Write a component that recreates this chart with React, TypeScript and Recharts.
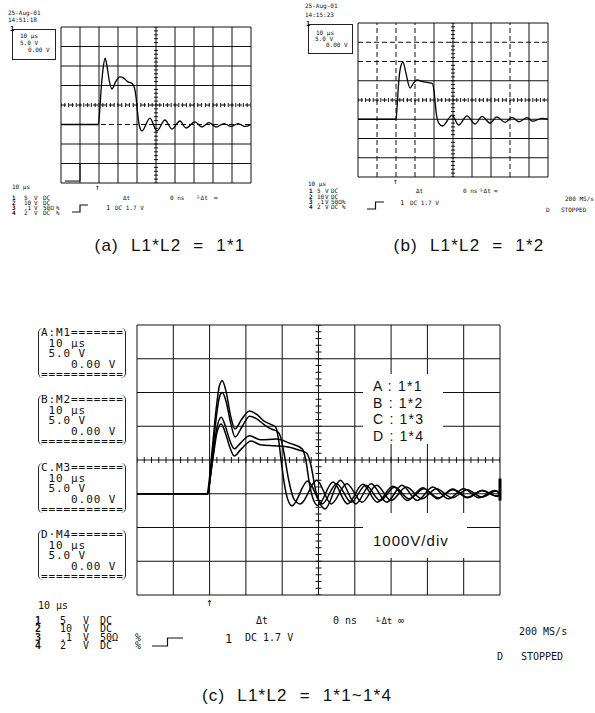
import React from "react";
import { ComposedChart, Line, Scatter, XAxis, YAxis, ReferenceLine } from "recharts";

// screen divisions of the scope graticule
const divX = [0, 1, 2, 3, 4, 5, 6, 7, 8, 9, 10];
const divY = [-4, -3, -2, -1, 0, 1, 2, 3, 4];

// (a) L1*L2 = 1*1  (time in div, voltage in div)
const aTime = [0, 1.97, 2.03, 2.12, 2.22, 2.32, 2.42, 2.55, 2.68, 2.88, 3.1, 3.3, 3.5, 3.74, 3.86, 3.95, 4.02, 4.12, 4.26, 4.68, 5.05, 5.47, 5.84, 6.26, 6.58, 7.05, 7.42, 7.79, 8.16, 8.58, 8.95, 9.32, 9.68, 10];
const aVolt = [-1, -1, -0.4, 0.9, 1.9, 2.4, 2.0, 1.2, 0.82, 1.2, 1.44, 1.38, 1.2, 1.1, 0.9, 0.4, -0.3, -1.05, -1.33, -0.67, -1.33, -0.77, -1.23, -0.82, -1.18, -0.87, -1.13, -0.9, -1.13, -0.95, -1.1, -0.95, -1.1, -1];
const aTrigTime = [0.2, 1.0, 1.0];
const aTrigVolt = [-3.9, -3.9, -3.0];

// (b) L1*L2 = 1*2
const bTime = [0, 2.0, 2.06, 2.14, 2.24, 2.37, 2.5, 2.74, 2.92, 3.1, 3.4, 3.7, 3.92, 4.02, 4.12, 4.25, 4.45, 4.95, 5.3, 5.74, 6.16, 6.53, 6.95, 7.3, 7.74, 8.1, 8.47, 8.9, 9.2, 9.68, 10];
const bVolt = [-1, -1, -0.3, 0.9, 1.7, 1.97, 1.5, 0.62, 0.88, 1.04, 0.96, 0.9, 0.85, 0.3, -0.7, -1.2, -1.35, -0.8, -1.3, -0.82, -1.25, -0.85, -1.2, -0.88, -1.16, -0.9, -1.13, -0.92, -1.1, -0.95, -1];

// (c) L1*L2 = 1*1 ~ 1*4
const cTimeA = [0, 1.93, 2.0, 2.08, 2.18, 2.27, 2.35, 2.45, 2.58, 2.7, 2.88, 3.1, 3.3, 3.5, 3.7, 3.82, 3.9, 3.98, 4.1, 4.27, 4.7, 5.1, 5.5, 5.9, 6.3, 6.7, 7.1, 7.5, 7.9, 8.3, 8.7, 9.1, 9.5, 9.9, 10];
const cVoltA = [-1, -1, -0.5, 0.4, 1.5, 2.2, 2.35, 2.05, 1.3, 0.92, 1.2, 1.45, 1.35, 1.15, 1.05, 0.98, 0.6, -0.1, -0.95, -1.36, -0.62, -1.3, -0.7, -1.25, -0.75, -1.2, -0.8, -1.15, -0.85, -1.12, -0.88, -1.1, -0.9, -1.06, -1];
const cTimeB = [0, 1.95, 2.02, 2.1, 2.2, 2.28, 2.35, 2.45, 2.58, 2.7, 2.9, 3.1, 3.3, 3.5, 3.7, 3.85, 3.95, 4.05, 4.18, 4.32, 4.5, 4.95, 5.35, 5.78, 6.2, 6.6, 7.0, 7.42, 7.85, 8.25, 8.68, 9.1, 9.5, 9.9, 10];
const cVoltB = [-1, -1, -0.5, 0.4, 1.4, 1.9, 2.0, 1.75, 1.1, 0.68, 1.0, 1.3, 1.22, 1.05, 0.92, 0.86, 0.7, 0.2, -0.6, -1.15, -1.3, -0.6, -1.3, -0.7, -1.25, -0.75, -1.2, -0.8, -1.15, -0.85, -1.12, -0.88, -1.1, -0.92, -1];
const cTimeC = [0, 1.95, 2.02, 2.1, 2.2, 2.32, 2.45, 2.55, 2.68, 2.85, 3.1, 3.4, 3.85, 4.2, 4.55, 4.65, 4.75, 4.85, 4.98, 5.4, 5.8, 6.22, 6.62, 7.05, 7.45, 7.87, 8.28, 8.7, 9.1, 9.52, 9.92, 10];
const cVoltC = [-1, -1, -0.5, 0.2, 0.95, 1.27, 0.95, 0.6, 0.33, 0.5, 0.72, 0.6, 0.62, 0.5, 0.33, 0.0, -0.7, -1.15, -1.35, -0.65, -1.3, -0.72, -1.25, -0.78, -1.2, -0.82, -1.15, -0.86, -1.12, -0.9, -1.08, -1.02];
const cTimeD = [0, 1.95, 2.02, 2.1, 2.2, 2.32, 2.45, 2.55, 2.68, 2.85, 3.15, 3.4, 3.8, 4.2, 4.5, 4.68, 4.8, 4.92, 5.05, 5.18, 5.6, 6.02, 6.45, 6.88, 7.3, 7.72, 8.15, 8.58, 9.0, 9.42, 9.85, 10];
const cVoltD = [-1, -1, -0.5, 0.1, 0.8, 1.07, 0.75, 0.4, 0.12, 0.3, 0.56, 0.45, 0.42, 0.38, 0.28, 0.2, -0.2, -0.9, -1.3, -1.45, -0.6, -1.3, -0.7, -1.25, -0.75, -1.2, -0.8, -1.15, -0.85, -1.12, -0.9, -1.0];

const legendLabels = ["A : 1*1", "B : 1*2", "C : 1*3", "D : 1*4"];
const memLabels = ["A:M1", "B:M2", "C.M3", "D·M4"];
const chanRows = [
  ["1", "5", "V", "DC", ""],
  ["2", "10", "V", "DC", ""],
  ["3", ".1", "V", "50Ω", "%"],
  ["4", "2", "V", "DC", "%"],
];

const pts = (xs: number[], ys: number[]) => xs.map((x, i) => ({ x, y: ys[i] }));

// small graticule marks along the centre lines, every 0.2 div
const minorX = Array.from({ length: 51 }, (_, i) => ({ x: +(i * 0.2).toFixed(1), y: 0 }));
const minorY = Array.from({ length: 41 }, (_, i) => ({ x: 5, y: +(-4 + i * 0.2).toFixed(1) }));

const mono = '"DejaVu Sans Mono", "Liberation Mono", monospace';
const sans = '"Liberation Sans", Arial, sans-serif';

function T({ x, y, s = 10, lh, f = mono, bold = false, ls = 0, center = false, children }: any) {
  const h = lh ?? s;
  return (
    <div
      style={{
        position: "absolute",
        left: x,
        top: y - h / 2,
        fontSize: s,
        lineHeight: `${h}px`,
        fontFamily: f,
        fontWeight: bold ? 700 : 400,
        letterSpacing: ls,
        whiteSpace: "pre",
        color: "#111",
        transform: center ? "translateX(-50%)" : undefined,
      }}
    >
      {children}
    </div>
  );
}

function Step({ x, y, w, h }: any) {
  return (
    <svg style={{ position: "absolute", left: x, top: y }} width={w} height={h}>
      <polyline
        points={`0,${h - 1} ${w / 2},${h - 1} ${w / 2},1 ${w},1`}
        fill="none"
        stroke="#111"
        strokeWidth={1.2}
      />
    </svg>
  );
}

function Scope({ left, top, w, h, traces, dashX = [], dashY = [], tick = 2.5, sw = 1.3, children }: any) {
  const pad = 6;
  return (
    <div style={{ position: "absolute", left: left - pad, top: top - pad }}>
      <ComposedChart
        width={w + pad * 2}
        height={h + pad * 2}
        margin={{ top: pad, right: pad, bottom: pad, left: pad }}
      >
        <XAxis type="number" dataKey="x" domain={[0, 10]} hide allowDataOverflow />
        <YAxis type="number" dataKey="y" domain={[-4, 4]} hide allowDataOverflow />
        {divX.map((v) => (
          <ReferenceLine
            key={"gx" + v}
            x={v}
            stroke="#111"
            strokeWidth={1}
            strokeDasharray={dashX.includes(v) ? "5 3" : undefined}
          />
        ))}
        {divY.map((v) => (
          <ReferenceLine
            key={"gy" + v}
            y={v}
            stroke="#111"
            strokeWidth={1}
            strokeDasharray={dashY.includes(v) ? "5 3" : undefined}
          />
        ))}
        <Scatter
          data={minorX}
          isAnimationActive={false}
          shape={(p: any) => (
            <line x1={p.cx} x2={p.cx} y1={p.cy - tick} y2={p.cy + tick} stroke="#111" strokeWidth={1} />
          )}
        />
        <Scatter
          data={minorY}
          isAnimationActive={false}
          shape={(p: any) => (
            <line x1={p.cx - tick} x2={p.cx + tick} y1={p.cy} y2={p.cy} stroke="#111" strokeWidth={1} />
          )}
        />
        {traces.map((t: any, i: number) => (
          <Line
            key={i}
            data={t.data}
            dataKey="y"
            type={t.linear ? "linear" : "monotone"}
            dot={false}
            stroke="#000"
            strokeWidth={t.sw ?? sw}
            isAnimationActive={false}
          />
        ))}
        {children}
      </ComposedChart>
    </div>
  );
}

function MemBox({ top, label }: any) {
  return (
    <div
      style={{
        position: "absolute",
        left: 38,
        top,
        width: 84,
        height: 50,
        borderLeft: "1px solid #222",
        borderRight: "1px solid #222",
        borderRadius: 5,
        fontFamily: mono,
        fontSize: 11,
        lineHeight: "10.5px",
        letterSpacing: 0.9,
        whiteSpace: "pre",
        color: "#111",
        paddingLeft: 2,
      }}
    >
      {label + "=======\n 10 μs\n 5.0 V\n    0.00 V\n==========="}
    </div>
  );
}

// channel settings block: one multi-line text per column
function ChanTable({ x, y, s, dy, cols }: any) {
  return (
    <>
      {cols.map((cx: number, j: number) => (
        <div
          key={j}
          style={{
            position: "absolute",
            left: x + cx,
            top: y - dy / 2,
            fontSize: s,
            lineHeight: `${dy}px`,
            fontFamily: mono,
            fontWeight: j === 0 ? 700 : 400,
            whiteSpace: "pre",
            color: "#111",
          }}
        >
          {chanRows.map((r) => r[j] || " ").join("\n")}
        </div>
      ))}
    </>
  );
}

export default function App() {
  return (
    <div style={{ position: "absolute", left: 0, top: 0, width: 595, height: 713, background: "#fff", overflow: "hidden" }}>
      {/* (a) */}
      <Scope
        left={61}
        top={27}
        w={190}
        h={156}
        dashY={[0, -1]}
        tick={2}
        traces={[{ data: pts(aTime, aVolt) }, { data: pts(aTrigTime, aTrigVolt), linear: true, sw: 1 }]}
      />
      <T x={8} y={13} s={6}>25-Aug-01</T>
      <T x={8} y={20} s={6}>14:51:18</T>
      <div style={{ position: "absolute", left: 12, top: 29, width: 42, height: 29, border: "1px solid #222" }} />
      <T x={10} y={29} s={7} bold>1</T>
      <T x={20} y={36} s={6}>10 μs</T>
      <T x={20} y={43} s={6}>5.0 V</T>
      <T x={28} y={50} s={6}>0.00 V</T>
      <T x={95} y={188} s={8}>↑</T>
      <T x={12} y={187} s={6}>10 μs</T>
      <ChanTable x={12} y={197} s={6} dy={5} cols={[0, 12, 22, 31, 44]} />
      <T x={123} y={197} s={6} lh={5}>Δt</T>
      <T x={170} y={197} s={6} lh={5}>0 ns</T>
      <T x={197} y={197} s={6} lh={5}>⅟Δt</T>
      <T x={214} y={197} s={6} lh={5}>∞</T>
      <Step x={72} y={204} w={16} h={9} />
      <T x={106} y={208} s={7}>1</T>
      <T x={115} y={208} s={6}>DC 1.7 V</T>
      <T x={170} y={245} s={17} f={sans} ls={1.2} center>
        <span style={{ wordSpacing: 6 }}>(a) L1*L2 = 1*1</span>
      </T>

      {/* (b) */}
      <Scope
        left={358}
        top={23}
        w={190}
        h={154}
        dashX={[1, 2, 3, 8]}
        dashY={[0, 2, 3]}
        tick={2}
        traces={[{ data: pts(bTime, bVolt) }]}
      />
      <T x={305} y={6} s={6}>25-Aug-01</T>
      <T x={305} y={15} s={6}>14:15:23</T>
      <div style={{ position: "absolute", left: 308, top: 24, width: 43, height: 28, border: "1px solid #222" }} />
      <T x={306} y={24} s={7} bold>1</T>
      <T x={316} y={33} s={6}>10 μs</T>
      <T x={315} y={39} s={6}>5.0 V</T>
      <T x={326} y={45} s={6}>0.00 V</T>
      <T x={393} y={182} s={8}>↑</T>
      <T x={308} y={183} s={6} lh={5}>10 μs</T>
      <ChanTable x={309} y={191} s={6} dy={5.3} cols={[0, 8, 16, 22, 33]} />
      <T x={416} y={190} s={6} lh={5}>Δt</T>
      <T x={463} y={190} s={6} lh={5}>0 ns</T>
      <T x={480} y={190} s={6} lh={5}>⅟Δt</T>
      <T x={494} y={190} s={6} lh={5}>∞</T>
      <T x={565} y={199} s={6}>200 MS/s</T>
      <T x={546} y={210} s={6}>D</T>
      <T x={561} y={210} s={6}>STOPPED</T>
      <Step x={367} y={201} w={17} h={9} />
      <T x={400} y={203} s={7}>1</T>
      <T x={410} y={203} s={6}>DC 1.7 V</T>
      <T x={469} y={245} s={17} f={sans} ls={1.2} center>
        <span style={{ wordSpacing: 6 }}>(b) L1*L2 = 1*2</span>
      </T>

      {/* (c) */}
      <Scope
        left={137}
        top={325}
        w={363}
        h={270}
        tick={3}
        sw={1.5}
        traces={[
          { data: pts(cTimeA, cVoltA) },
          { data: pts(cTimeB, cVoltB) },
          { data: pts(cTimeC, cVoltC) },
          { data: pts(cTimeD, cVoltD) },
        ]}
      >
        <ReferenceLine segment={[{ x: 10, y: -0.55 }, { x: 10, y: -1.2 }]} stroke="#000" strokeWidth={3} />
      </Scope>
      <div style={{ position: "absolute", left: 363, top: 374, width: 80, height: 70, background: "#fff" }} />
      {legendLabels.map((l, i) => (
        <T key={l} x={373} y={386 + i * 16.7} s={14} f={sans} ls={1.2}>
          {l}
        </T>
      ))}
      <div style={{ position: "absolute", left: 363, top: 513, width: 104, height: 45, background: "#fff" }} />
      <T x={373} y={540} s={15} f={sans} ls={1}>1000V/div</T>
      {memLabels.map((m, i) => (
        <MemBox key={m} top={[328, 395, 463, 530][i]} label={m} />
      ))}
      <T x={206} y={602} s={11}>↑</T>
      <T x={38} y={606} s={10}>10 μs</T>
      <ChanTable x={35} y={621} s={10} dy={8.4} cols={[0, 25, 48, 65, 100]} />
      <T x={256} y={621} s={10} lh={8}>Δt</T>
      <T x={333} y={621} s={10} lh={8}>0 ns</T>
      <T x={376} y={621} s={9} lh={8}>⅟Δt</T>
      <T x={398} y={621} s={10} lh={8}>∞</T>
      <Step x={152} y={637} w={31} h={10} />
      <T x={225} y={639} s={12}>1</T>
      <T x={245} y={638} s={10}>DC 1.7 V</T>
      <T x={519} y={632} s={10}>200 MS/s</T>
      <T x={497} y={657} s={10}>D</T>
      <T x={521} y={657} s={10}>STOPPED</T>
      <T x={297} y={695} s={17} f={sans} ls={1.2} center>
        <span style={{ wordSpacing: 6 }}>(c) L1*L2 = 1*1~1*4</span>
      </T>
    </div>
  );
}
